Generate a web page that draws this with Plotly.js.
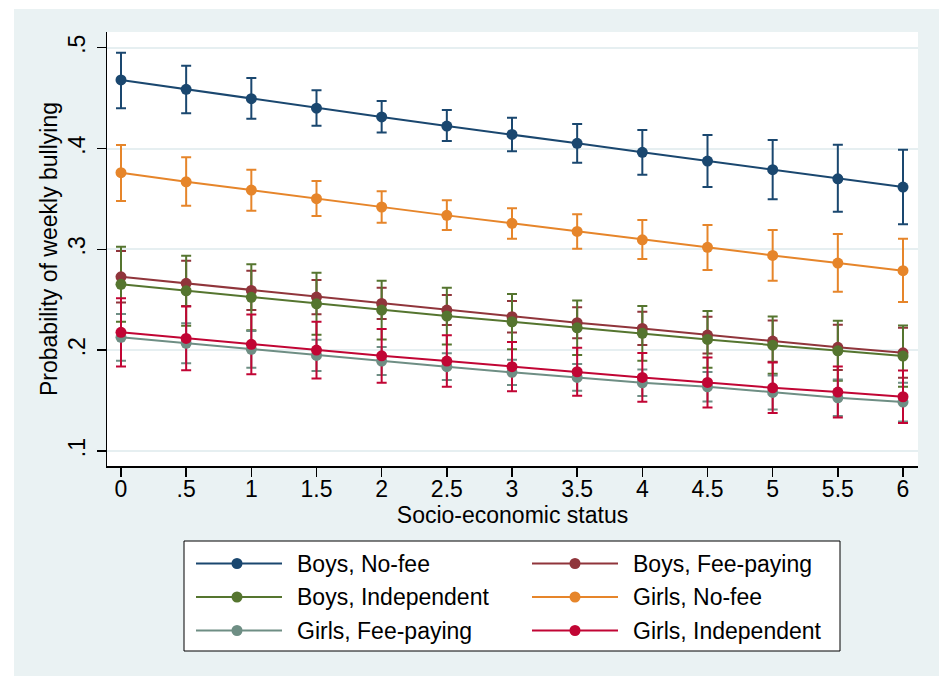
<!DOCTYPE html>
<html>
<head>
<meta charset="utf-8">
<script src="https://cdn.plot.ly/plotly-3.0.1.min.js"></script>
<style>
  html, body { margin: 0; padding: 0; background: #ffffff; }
  #chart { position: absolute; left: 14px; top: 9px; width: 925px; height: 667px; }
</style>
</head>
<body>
<div id="chart"></div>
<script>
// Socio-economic status values (x)
const ses = [0, 0.5, 1, 1.5, 2, 2.5, 3, 3.5, 4, 4.5, 5, 5.5, 6];
const sesTickText = ['0', '.5', '1', '1.5', '2', '2.5', '3', '3.5', '4', '4.5', '5', '5.5', '6'];
const probTickVals = [0.1, 0.2, 0.3, 0.4, 0.5];
const probTickText = ['.1', '.2', '.3', '.4', '.5'];

const seriesNames = ['Boys, No-fee', 'Boys, Fee-paying', 'Boys, Independent',
                     'Girls, No-fee', 'Girls, Fee-paying', 'Girls, Independent'];

// Predicted probability of weekly bullying, with lower / upper confidence limits
const boysNoFee     = [0.468, 0.4587, 0.4494, 0.440, 0.4313, 0.4223, 0.414, 0.4052, 0.3962, 0.3876, 0.379, 0.370, 0.3618];
const boysNoFeeLo   = [0.440, 0.435, 0.4296, 0.4226, 0.416, 0.4074, 0.3972, 0.3859, 0.374, 0.3618, 0.3496, 0.3373, 0.3248];
const boysNoFeeHi   = [0.495, 0.482, 0.470, 0.4577, 0.4471, 0.4382, 0.4306, 0.4243, 0.4184, 0.4134, 0.4084, 0.4038, 0.3988];

const boysFee       = [0.2728, 0.2663, 0.2593, 0.2527, 0.2464, 0.2398, 0.2332, 0.2272, 0.2216, 0.215, 0.209, 0.2028, 0.1974];
const boysFeeLo     = [0.2472, 0.2439, 0.2398, 0.2357, 0.2309, 0.2249, 0.2176, 0.2118, 0.2052, 0.1968, 0.1886, 0.1803, 0.1726];
const boysFeeHi     = [0.2984, 0.2887, 0.2788, 0.2697, 0.2619, 0.2547, 0.2488, 0.2426, 0.2382, 0.2332, 0.2294, 0.2253, 0.2222];

const boysIndep     = [0.2653, 0.2589, 0.2524, 0.246, 0.2398, 0.2338, 0.2282, 0.2222, 0.2167, 0.2107, 0.205, 0.1994, 0.1941];
const boysIndepLo   = [0.2281, 0.2241, 0.2197, 0.2152, 0.2107, 0.2057, 0.2008, 0.1951, 0.1896, 0.1826, 0.1766, 0.1696, 0.1637];
const boysIndepHi   = [0.3025, 0.2937, 0.2851, 0.2768, 0.2689, 0.2619, 0.2556, 0.2493, 0.2438, 0.2388, 0.2334, 0.2292, 0.2245];

const girlsNoFee    = [0.376, 0.367, 0.3588, 0.3502, 0.342, 0.3337, 0.3258, 0.3178, 0.3095, 0.302, 0.294, 0.2864, 0.2788];
const girlsNoFeeLo  = [0.3479, 0.3433, 0.3383, 0.333, 0.3264, 0.3192, 0.3105, 0.3006, 0.2904, 0.2795, 0.2689, 0.2579, 0.2477];
const girlsNoFeeHi  = [0.4035, 0.3913, 0.379, 0.3678, 0.3575, 0.3486, 0.3407, 0.3347, 0.3291, 0.3241, 0.3191, 0.3152, 0.3105];

const girlsFee      = [0.2127, 0.2068, 0.2008, 0.1948, 0.1892, 0.1836, 0.178, 0.173, 0.1677, 0.1637, 0.1581, 0.1528, 0.1485];
const girlsFeeLo    = [0.1895, 0.187, 0.1826, 0.1793, 0.1753, 0.1703, 0.1654, 0.1598, 0.1545, 0.1491, 0.1412, 0.1346, 0.1293];
const girlsFeeHi    = [0.2359, 0.2266, 0.219, 0.2103, 0.2031, 0.1969, 0.1906, 0.1862, 0.1809, 0.1783, 0.175, 0.171, 0.1677];

const girlsIndep    = [0.2177, 0.2117, 0.2058, 0.2001, 0.1944, 0.1892, 0.1836, 0.1786, 0.173, 0.168, 0.1627, 0.1584, 0.1538];
const girlsIndepLo  = [0.1838, 0.18, 0.1761, 0.172, 0.1678, 0.1637, 0.1592, 0.1548, 0.1489, 0.1432, 0.1377, 0.1331, 0.1277];
const girlsIndepHi  = [0.2516, 0.2434, 0.2355, 0.2282, 0.221, 0.2147, 0.208, 0.2024, 0.1971, 0.1928, 0.1877, 0.1837, 0.1799];

const seriesColors = ['#1A476F', '#90353B', '#55752F', '#E6852A', '#6E8E84', '#C10534'];

const series = [
  { y: boysNoFee,  lo: boysNoFeeLo,  hi: boysNoFeeHi },
  { y: boysFee,    lo: boysFeeLo,    hi: boysFeeHi },
  { y: boysIndep,  lo: boysIndepLo,  hi: boysIndepHi },
  { y: girlsNoFee, lo: girlsNoFeeLo, hi: girlsNoFeeHi },
  { y: girlsFee,   lo: girlsFeeLo,   hi: girlsFeeHi },
  { y: girlsIndep, lo: girlsIndepLo, hi: girlsIndepHi }
];

const FONT = 'Liberation Sans, Arial, Helvetica, sans-serif';
const FS = 23;

// Confidence-interval caps first, so the connected lines sit on top
const ciTraces = series.map((s, i) => ({
  type: 'scatter',
  mode: 'markers',
  x: ses,
  y: s.y,
  marker: { size: 1, color: 'rgba(0,0,0,0)' },
  error_y: {
    type: 'data',
    symmetric: false,
    array: s.hi.map((v, k) => v - s.y[k]),
    arrayminus: s.y.map((v, k) => v - s.lo[k]),
    color: seriesColors[i],
    thickness: 2,
    width: 5
  },
  hoverinfo: 'skip',
  showlegend: false
}));

const lineTraces = series.map((s, i) => ({
  type: 'scatter',
  mode: 'lines+markers',
  name: seriesNames[i],
  x: ses,
  y: s.y,
  line: { color: seriesColors[i], width: 2 },
  marker: { color: seriesColors[i], size: 11, symbol: 'circle' },
  showlegend: false
}));

// Plot-area geometry (px inside the chart div)
const W = 925, H = 667;
const M = { l: 93, r: 21, t: 23, b: 210 };
const plotW = W - M.l - M.r;
const plotH = H - M.t - M.b;
const px = v => (v - M.l) / plotW;
const py = v => 1 - (v - M.t) / plotH;

// Legend drawn as a boxed two-column key
const shapes = [{
  type: 'rect', xref: 'paper', yref: 'paper',
  x0: px(170), x1: px(826), y0: py(532), y1: py(642),
  fillcolor: '#ffffff', line: { color: '#000000', width: 1 }, layer: 'above'
}];
const annotations = [];
const colLine = [[182, 268], [518, 604]];
const colMark = [223, 561];
const colText = [281, 617];
const rowY = [554.5, 588, 621.5];
seriesNames.forEach((name, i) => {
  const c = i % 2, r = Math.floor(i / 2);
  shapes.push({
    type: 'line', xref: 'paper', yref: 'paper',
    x0: px(colLine[c][0]), x1: px(colLine[c][1]), y0: py(rowY[r]), y1: py(rowY[r]),
    line: { color: seriesColors[i], width: 2 }, layer: 'above'
  });
  shapes.push({
    type: 'circle', xref: 'paper', yref: 'paper',
    xsizemode: 'pixel', ysizemode: 'pixel',
    xanchor: px(colMark[c]), yanchor: py(rowY[r]),
    x0: -5.5, x1: 5.5, y0: -5.5, y1: 5.5,
    fillcolor: seriesColors[i], line: { width: 0 }, layer: 'above'
  });
  annotations.push({
    xref: 'paper', yref: 'paper', x: px(colText[c]), y: py(rowY[r]),
    xanchor: 'left', yanchor: 'middle', showarrow: false,
    text: name, font: { family: FONT, size: FS, color: '#000000' }
  });
});

const layout = {
  width: W, height: H,
  margin: M,
  paper_bgcolor: '#EAF2F3',
  plot_bgcolor: '#ffffff',
  showlegend: false,
  font: { family: FONT, size: FS, color: '#000000' },
  xaxis: {
    range: [-0.1074, 6.1151],
    tickvals: ses, ticktext: sesTickText,
    ticks: 'outside', ticklen: 9, tickwidth: 1.5, tickcolor: '#000000',
    ticklabelstandoff: -7,
    showline: true, linecolor: '#000000', linewidth: 1.5,
    showgrid: false, zeroline: false,
    tickfont: { family: FONT, size: FS, color: '#000000' },
    title: { text: 'Socio-economic status', standoff: 3, font: { family: FONT, size: FS, color: '#000000' } }
  },
  yaxis: {
    range: [0.08512, 0.51557],
    tickvals: probTickVals, ticktext: probTickText,
    tickangle: -90,
    ticks: 'outside', ticklen: 9, tickwidth: 1.5, tickcolor: '#000000',
    ticklabelstandoff: 2,
    showline: true, linecolor: '#000000', linewidth: 1.5,
    showgrid: true, gridcolor: '#E6EFF1', gridwidth: 2,
    zeroline: false,
    tickfont: { family: FONT, size: FS, color: '#000000' },
    title: { text: 'Probability of weekly bullying', standoff: 0, font: { family: FONT, size: FS, color: '#000000' } }
  },
  shapes: shapes,
  annotations: annotations
};

Plotly.newPlot('chart', ciTraces.concat(lineTraces), layout, { displayModeBar: false, staticPlot: true });
</script>
</body>
</html>
